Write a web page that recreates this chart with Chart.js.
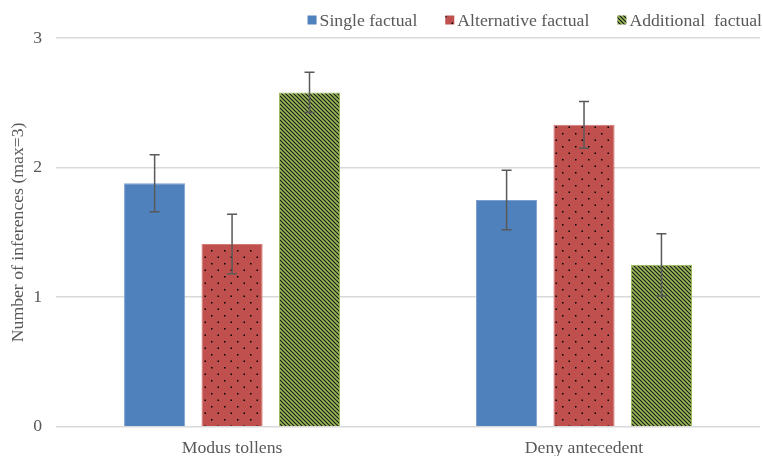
<!DOCTYPE html>
<html>
<head>
<meta charset="utf-8">
<script src="https://cdn.jsdelivr.net/npm/chart.js@4.4.0/dist/chart.umd.min.js"></script>
<style>
  html, body { margin: 0; padding: 0; background: #fff; }
  #wrap { width: 763px; height: 456px; }
</style>
</head>
<body>
<div id="wrap"><canvas id="chart"></canvas></div>
<script>
const categories = ['Modus tollens', 'Deny antecedent'];
const seriesNames = ['Single factual', 'Alternative factual', 'Additional  factual'];
const singleValues = [1.88, 1.75];
const alternativeValues = [1.41, 2.33];
const additionalValues = [2.58, 1.25];
const singleErrors = [0.22, 0.23];
const alternativeErrors = [0.23, 0.18];
const additionalErrors = [0.155, 0.24];
const yTicks = [0, 1, 2, 3];

const fontFamily = "'Liberation Serif', 'Times New Roman', serif";
const font = { family: fontFamily, size: 17.7 };
const textColor = '#595959';

// patterns like the Excel fills
function dotPattern(bg) {
    const c = document.createElement('canvas');
    c.width = 13; c.height = 13;
    const g = c.getContext('2d');
    g.fillStyle = bg;
    g.fillRect(0, 0, 13, 13);
    g.fillStyle = '#000';
    g.fillRect(3, 3, 1.5, 1.5);
    g.fillRect(9.5, 9.5, 1.5, 1.5);
    return g.createPattern(c, 'repeat');
}

function stripePattern(bg) {
    const c = document.createElement('canvas');
    c.width = 4; c.height = 4;
    const g = c.getContext('2d');
    g.fillStyle = bg;
    g.fillRect(0, 0, 4, 4);
    g.strokeStyle = '#1a1a1a';
    g.lineWidth = 1.2;
    g.beginPath();
    g.moveTo(-1, -1); g.lineTo(5, 5);
    g.moveTo(-1, 3); g.lineTo(1, 5);
    g.moveTo(3, -1); g.lineTo(5, 1);
    g.stroke();
    return g.createPattern(c, 'repeat');
}

const errorBars = {
    id: 'errorBars',
    afterDatasetsDraw(chart) {
        const ctx = chart.ctx;
        const y = chart.scales.y;
        ctx.save();
        ctx.strokeStyle = '#595959';
        ctx.lineWidth = 1.5;
        chart.data.datasets.forEach((ds, i) => {
            const meta = chart.getDatasetMeta(i);
            meta.data.forEach((bar, j) => {
                const v = ds.data[j];
                const e = ds.errors[j];
                const top = y.getPixelForValue(v + e);
                const bot = y.getPixelForValue(v - e);
                const x = bar.x;
                ctx.beginPath();
                ctx.moveTo(x, top); ctx.lineTo(x, bot);
                ctx.moveTo(x - 5, top); ctx.lineTo(x + 5, top);
                ctx.moveTo(x - 5, bot); ctx.lineTo(x + 5, bot);
                ctx.stroke();
            });
        });
        ctx.restore();
    }
};

// legend drawn by hand: small square, tight gap to the text, right aligned
const topLegend = {
    id: 'topLegend',
    afterDraw(chart) {
        const ctx = chart.ctx;
        ctx.save();
        ctx.font = font.size + 'px ' + fontFamily;
        ctx.textBaseline = 'middle';
        const box = 9, gap = 3, spacing = 28, cy = 20;
        const items = chart.data.datasets.map(ds => ({ ds: ds, w: ctx.measureText(ds.label).width }));
        let total = 0;
        items.forEach((it, i) => { total += box + gap + it.w + (i ? spacing : 0); });
        let x = chart.width - 1 - total;
        items.forEach(it => {
            ctx.fillStyle = it.ds.backgroundColor;
            ctx.fillRect(x, cy - box / 2, box, box);
            ctx.fillStyle = textColor;
            ctx.fillText(it.ds.label, x + box + gap, cy + 1);
            x += box + gap + it.w + spacing;
        });
        ctx.restore();
    }
};

new Chart(document.getElementById('chart'), {
    type: 'bar',
    data: {
        labels: categories,
        datasets: [
            { label: seriesNames[0], data: singleValues, errors: singleErrors,
              backgroundColor: '#4f81bd', borderColor: '#7da0cf', borderWidth: 1 },
            { label: seriesNames[1], data: alternativeValues, errors: alternativeErrors,
              backgroundColor: dotPattern('#c0504d'), borderColor: '#d27a78', borderWidth: 1 },
            { label: seriesNames[2], data: additionalValues, errors: additionalErrors,
              backgroundColor: stripePattern('#9bbb59'), borderColor: '#9bbb59', borderWidth: 1 }
        ]
    },
    options: {
        responsive: true,
        maintainAspectRatio: false,
        animation: false,
        categoryPercentage: 0.66,
        barPercentage: 0.79,
        layout: { padding: { left: 6, right: 3, top: 38, bottom: -6 } },
        plugins: {
            legend: { display: false },
            tooltip: { enabled: false }
        },
        scales: {
            x: {
                grid: { display: false },
                border: { display: false },
                ticks: { color: textColor, font: font, padding: 3 }
            },
            y: {
                min: 0, max: 3,
                afterBuildTicks(axis) { axis.ticks = yTicks.map(v => ({ value: v })); },
                grid: { color: '#d9d9d9', lineWidth: 1.5, drawTicks: false },
                border: { display: false },
                ticks: { color: textColor, font: font, padding: 14 },
                title: { display: true, text: 'Number of inferences (max=3)', color: textColor,
                         font: font, padding: { top: 2, bottom: -10 } }
            }
        }
    },
    plugins: [errorBars, topLegend]
});
</script>
</body>
</html>
